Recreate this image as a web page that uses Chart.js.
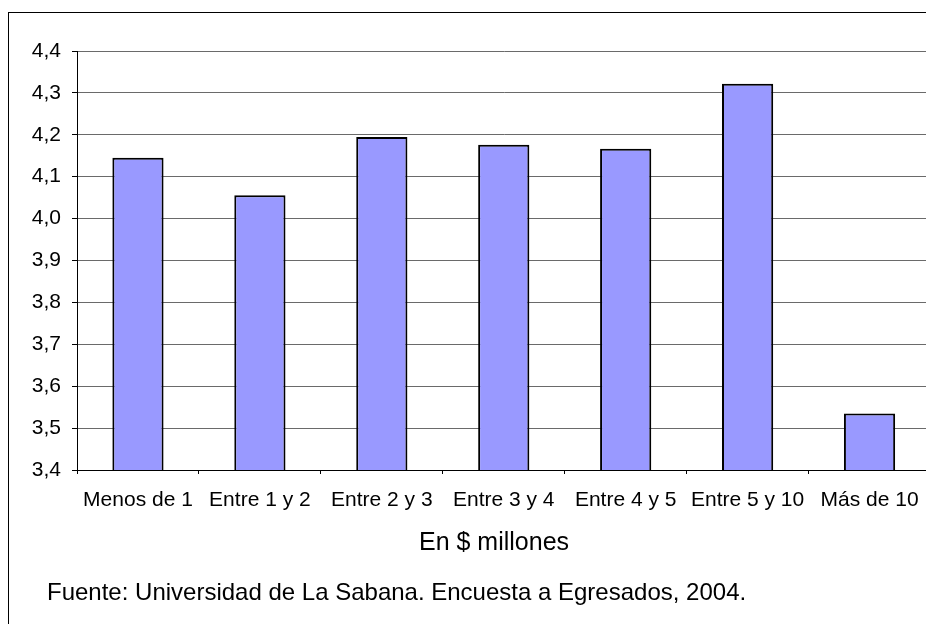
<!DOCTYPE html>
<html>
<head>
<meta charset="utf-8">
<script src="https://cdn.jsdelivr.net/npm/chart.js@4"></script>
<style>
  html, body { margin: 0; padding: 0; overflow: hidden; background: #fff; }
  #marco { position: absolute; left: 8px; top: 12px; width: 1000px; height: 700px; border: 1px solid #000; }
  #grafico { position: absolute; left: 0; top: 0; }
</style>
</head>
<body>
<div id="marco"></div>
<canvas id="grafico" width="940" height="624"></canvas>
<script>
// datos
const categorias = ["Menos de 1", "Entre 1 y 2", "Entre 2 y 3", "Entre 3 y 4", "Entre 4 y 5", "Entre 5 y 10", "Más de 10"];
const valores = [4.145, 4.056, 4.195, 4.176, 4.167, 4.322, 3.535];
const tituloEjeX = "En $ millones";
const fuente = "Fuente: Universidad de La Sabana. Encuesta a Egresados, 2004.";

const fuenteTexto = "'Liberation Sans', Arial, sans-serif";

// textos de abajo (titulo del eje y fuente)
const textosAbajo = {
  id: "textosAbajo",
  afterDraw(chart) {
    const ctx = chart.ctx;
    ctx.save();
    ctx.fillStyle = "#000";
    ctx.textBaseline = "middle";
    ctx.font = "25px " + fuenteTexto;
    ctx.textAlign = "center";
    ctx.fillText(tituloEjeX, 494, 543);
    ctx.font = "24px " + fuenteTexto;
    ctx.textAlign = "left";
    ctx.fillText(fuente, 47, 593);
    ctx.restore();
  }
};

const ctx = document.getElementById("grafico").getContext("2d");
new Chart(ctx, {
  type: "bar",
  data: {
    labels: categorias,
    datasets: [{
      data: valores,
      backgroundColor: "#9999FF",
      borderColor: "#000000",
      borderWidth: 2,
      barPercentage: 0.42,
      categoryPercentage: 1.0
    }]
  },
  options: {
    responsive: false,
    animation: false,
    layout: { padding: { top: 51, right: 9.5, left: 0, bottom: 0 } },
    plugins: {
      legend: { display: false },
      tooltip: { enabled: false }
    },
    scales: {
      x: {
        afterFit(scale) { scale.height = 154; },
        grid: { drawOnChartArea: false, drawTicks: true, tickLength: 4, offset: true, color: "#000" },
        border: { display: true, color: "#000", width: 1 },
        ticks: { color: "#000", font: { family: fuenteTexto, size: 21 }, padding: 14, maxRotation: 0, autoSkip: false }
      },
      y: {
        min: 3.4,
        max: 4.4,
        afterFit(scale) { scale.width = 77; },
        grid: { color: "#6a6a6a", lineWidth: 1, tickLength: 5, tickColor: "#000" },
        border: { display: true, color: "#000", width: 1 },
        ticks: {
          stepSize: 0.1,
          color: "#000",
          padding: 11,
          font: { family: fuenteTexto, size: 21 },
          callback: v => v.toFixed(1).replace(".", ",")
        }
      }
    }
  },
  plugins: [textosAbajo]
});
</script>
</body>
</html>
